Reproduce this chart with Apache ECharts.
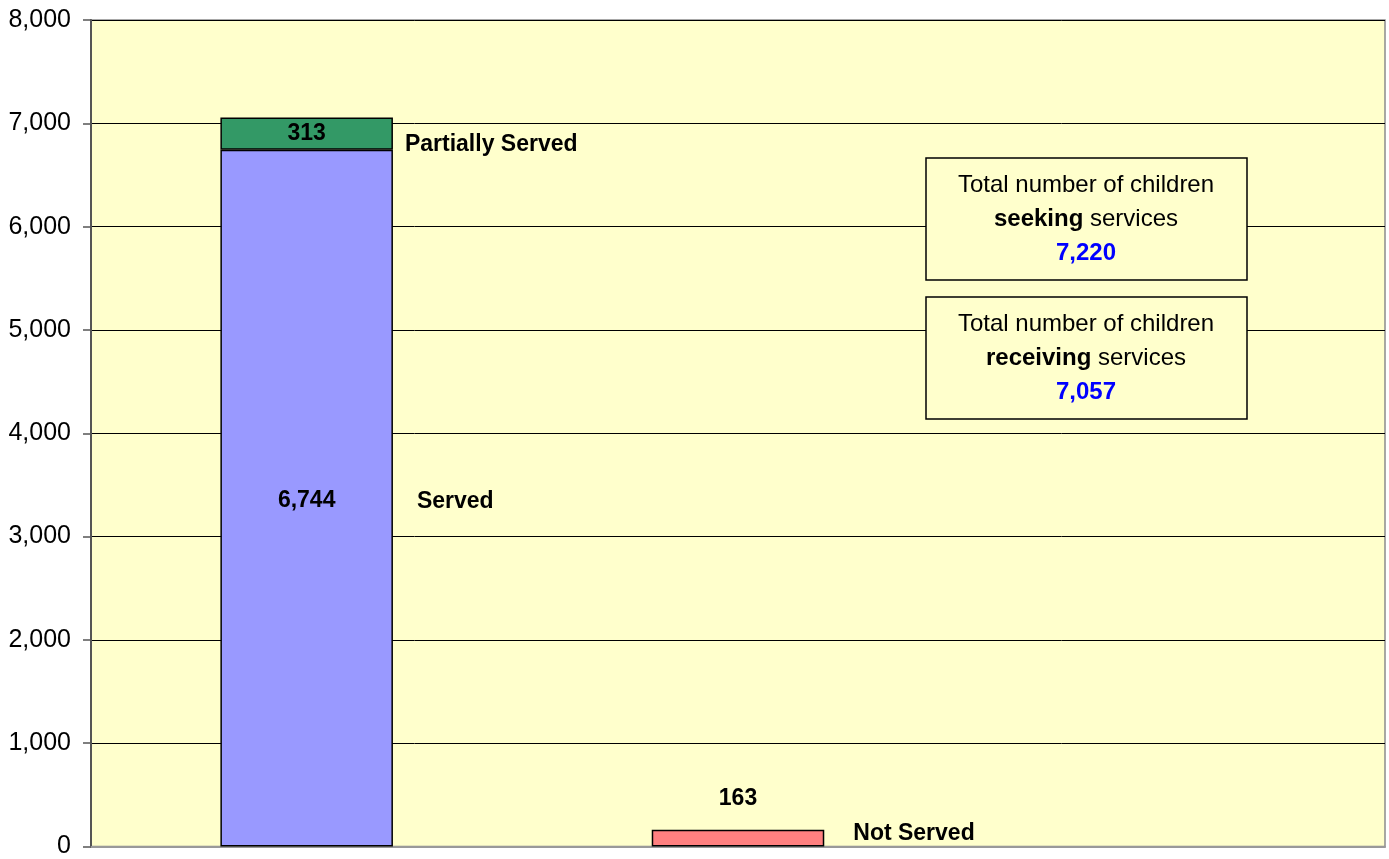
<!DOCTYPE html>
<html>
<head>
<meta charset="utf-8">
<script src="https://cdn.jsdelivr.net/npm/echarts@6/dist/echarts.min.js"></script>
<style>
  html, body { margin: 0; padding: 0; background: #fff; }
  #chart { width: 1389px; height: 859px; }
</style>
</head>
<body>
<div id="chart"></div>
<script>
// data
const categories = ['Served', 'Not Served', ''];
const served = [6744, '-', '-'];
const partial = [313, '-', '-'];
const notServed = ['-', 163, '-'];
const yTicks = [0, 1000, 2000, 3000, 4000, 5000, 6000, 7000, 8000];
const totalSeeking = 7220;
const totalReceiving = 7057;

const fmt = v => Number(v).toLocaleString('en-US');
const FONT = '"Liberation Sans", Arial, sans-serif';

const chart = echarts.init(document.getElementById('chart'));

const valueLabel = {
  show: true,
  position: 'inside',
  color: '#000',
  fontFamily: FONT,
  fontWeight: 'bold',
  fontSize: 23,
  formatter: p => fmt(p.value)
};

chart.setOption({
  animation: false,
  grid: {
    left: 91, right: 4, top: 20, bottom: 11,
    show: true,
    backgroundColor: '#FFFFCC',
    borderColor: '#8c8c8c',
    borderWidth: 1.5
  },
  xAxis: {
    type: 'category',
    data: categories,
    axisLine: { show: true, lineStyle: { color: '#999', width: 2 } },
    axisTick: { show: false },
    axisLabel: { show: false },
    splitLine: { show: false }
  },
  yAxis: {
    type: 'value',
    min: yTicks[0],
    max: yTicks[yTicks.length - 1],
    interval: 1000,
    axisLine: { show: true, lineStyle: { color: '#555', width: 2 } },
    axisTick: { show: true, length: 8, lineStyle: { color: '#555', width: 1.5 } },
    axisLabel: {
      color: '#000',
      fontFamily: FONT,
      fontSize: 25,
      margin: 20,
      formatter: v => fmt(v)
    },
    splitLine: { show: true, lineStyle: { color: '#000', width: 1 } }
  },
  series: [
    {
      name: 'Served',
      type: 'bar',
      stack: 'total',
      barWidth: '40%',
      data: served,
      itemStyle: { color: '#9999FF', borderColor: '#000', borderWidth: 1.5 },
      label: Object.assign({}, valueLabel, { offset: [0, 3] })
    },
    {
      name: 'Partially Served',
      type: 'bar',
      stack: 'total',
      barWidth: '40%',
      data: partial,
      itemStyle: { color: '#339966', borderColor: '#000', borderWidth: 1.5 },
      label: valueLabel
    },
    {
      name: 'Not Served',
      type: 'bar',
      stack: 'total',
      barWidth: '40%',
      data: notServed,
      itemStyle: { color: '#FF8080', borderColor: '#000', borderWidth: 1.5 },
      label: Object.assign({}, valueLabel, { position: 'top', distance: 20 })
    }
  ]
});

// series name annotations beside the bars, placed via the chart's own scales
const barHalf = chart.getModel().getComponent('xAxis', 0).axis.getBandWidth() * 0.2;
const nameText = (cat, val, dx, dy, text) => {
  const p = chart.convertToPixel({ xAxisIndex: 0, yAxisIndex: 0 }, [cat, val]);
  return {
    type: 'text',
    x: p[0] + barHalf + dx,
    y: p[1] + dy,
    style: {
      text: text,
      fill: '#000',
      font: 'bold 23px ' + FONT,
      textVerticalAlign: 'middle'
    }
  };
};

const boxText = (word, value) => ({
  text: '{n|Total number of children}\n{b|' + word + '}{n| services}\n{v|' + fmt(value) + '}',
  rich: {
    n: { fontFamily: FONT, fontSize: 24, fill: '#000', lineHeight: 34 },
    b: { fontFamily: FONT, fontSize: 24, fontWeight: 'bold', fill: '#000', lineHeight: 34 },
    v: { fontFamily: FONT, fontSize: 24, fontWeight: 'bold', fill: '#0000FF', lineHeight: 34 }
  }
});

const box = (top, word, value) => ({
  type: 'group',
  x: 926, y: top,
  children: [
    { type: 'rect', shape: { x: 0, y: 0, width: 321, height: 122 },
      style: { fill: '#FFFFCC', stroke: '#000', lineWidth: 1.5 } },
    { type: 'text', x: 160, y: 61,
      style: Object.assign({ textAlign: 'center', textVerticalAlign: 'middle' }, boxText(word, value)) }
  ]
});

chart.setOption({
  graphic: [
    nameText(0, served[0] + partial[0] / 2, 12, 11, 'Partially Served'),
    nameText(0, served[0] / 2, 24, 4, 'Served'),
    nameText(1, notServed[1] / 2, 29, -4, 'Not Served'),
    box(158, 'seeking', totalSeeking),
    box(297, 'receiving', totalReceiving)
  ]
});
</script>
</body>
</html>
